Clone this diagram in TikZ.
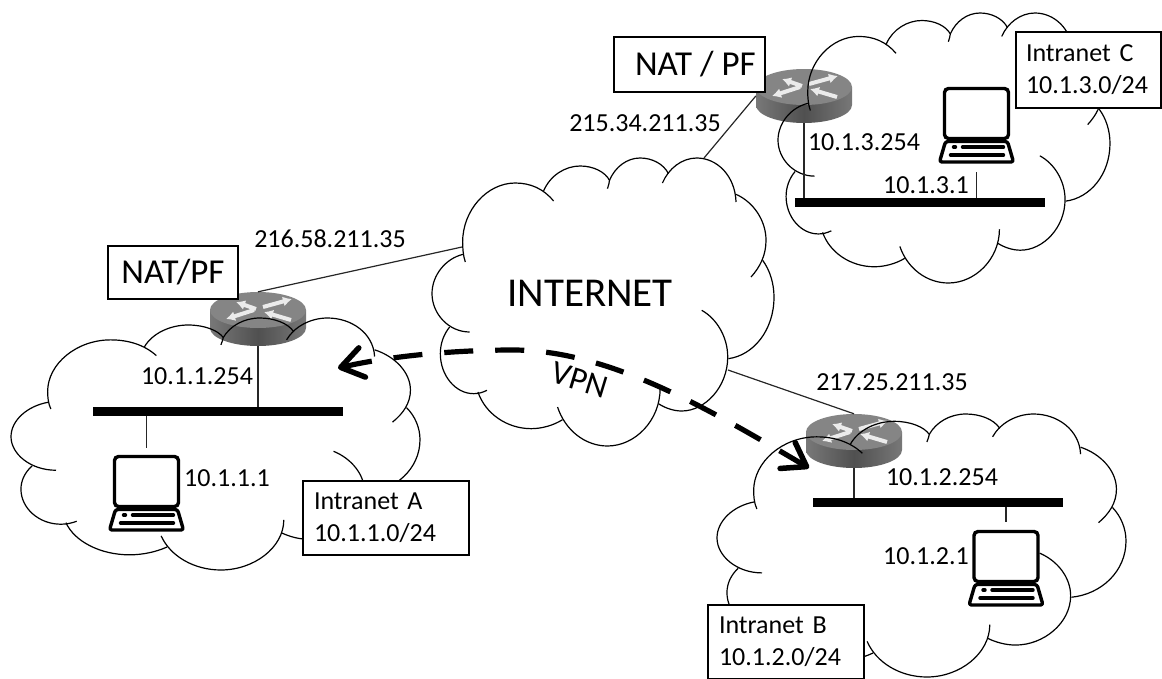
\documentclass[tikz,border=0pt]{standalone}
\usepackage{fontspec}
\setmainfont{Carlito}
\usetikzlibrary{arrows.meta}
\tikzset{>=latex}
\definecolor{routertop}{HTML}{858585}
\definecolor{routerside}{HTML}{505050}
\definecolor{routerrim}{HTML}{787878}
\tikzstyle{lbl}=[inner sep=0,font=\fontsize{26}{32}\selectfont]
\tikzstyle{boxed}=[draw,fill=white,line width=1.2pt,inner sep=0,font=\fontsize{26}{32}\selectfont,align=left]
\tikzstyle{natbox}=[boxed,font=\fontsize{35}{40}\selectfont]
\tikzstyle{lanbar}=[fill=black,inner sep=0,minimum width=250pt,minimum height=9pt]
\tikzstyle{slot}=[inner sep=0,minimum width=96pt,minimum height=54pt]
\tikzstyle{padslot}=[inner sep=0,minimum width=75pt,minimum height=77pt]
\tikzstyle{wire}=[line width=1.2pt,black!85]
\tikzstyle{vpnline}=[line width=5.2pt,dash pattern=on 29pt off 22pt,
  {Straight Barb[length=22pt,width=30pt,line width=5.5pt,round]}-{Straight Barb[length=22pt,width=30pt,line width=5.5pt,round]}]
\tikzstyle{routerarrow}=[white!92!black,line width=4pt,-{Latex[length=9pt,width=10pt]}]
\tikzset{
  routerpic/.pic={
    \path[left color=routerrim,right color=routerrim,middle color=routerside]
      (-48,-9) -- (-48,9) .. controls (-48,19) and (-26.4,27) .. (0,27)
      .. controls (26.4,27) and (48,19) .. (48,9) -- (48,-9) -- cycle;
    \fill[routertop] (0,-9) ellipse[x radius=48,y radius=18];
    \draw[routerarrow] (-2,-10) -- (-22,-17);
    \draw[routerarrow] (5,-12) -- (34,-20);
    \draw[routerarrow] (-4,-9) -- (-32,0);
    \draw[routerarrow] (33,1) -- (6,-7);
  },
  laptoppic/.pic={
    \draw[line width=3.4pt,rounded corners=4pt] (-32,-37) rectangle (32,13);
    \draw[line width=3.4pt,rounded corners=2.5pt,line join=round] (-31,16) -- (31,16) -- (37,36.5) -- (-37,36.5) -- cycle;
    \draw[line width=3.4pt,line cap=round] (-23,21.5) -- (-21,21.5) (-14,21.5) -- (27,21.5) (-26,29.5) -- (27,29.5);
  }
}
\newcommand{\netcloud}[4]{%
  \begin{scope}[shift={(#1,#2)},x={#3pt/1027},y={-#4pt/864},shift={(-305,-83)},line width=1.2pt]
    \draw (398,372) .. controls (345,385) and (305,435) .. (305,490) .. controls (305,550) and (355,605) .. (418,605);
    \draw (405,395) .. controls (398,375) and (397,350) .. (397,335) .. controls (397,240) and (470,158) .. (555,158) .. controls (600,158) and (640,175) .. (670,212);
    \draw (640,182) .. controls (660,135) and (705,107) .. (750,107) .. controls (790,107) and (825,125) .. (838,150) .. controls (838,155) and (835,165) .. (832,175);
    \draw (838,150) .. controls (855,110) and (890,83) .. (930,83) .. controls (965,83) and (1000,100) .. (1015,130);
    \draw (997,158) .. controls (1015,115) and (1055,83) .. (1100,83) .. controls (1160,83) and (1215,135) .. (1218,215);
    \draw (1218,192) .. controls (1270,215) and (1308,270) .. (1308,330) .. controls (1308,375) and (1290,410) .. (1263,440);
    \draw (1298,390) .. controls (1320,420) and (1332,460) .. (1332,500) .. controls (1332,600) and (1270,675) .. (1195,685);
    \draw (1115,540) .. controls (1160,565) and (1193,620) .. (1193,680) .. controls (1193,770) and (1125,842) .. (1055,842) .. controls (1030,842) and (1005,833) .. (985,820);
    \draw (990,775) .. controls (990,870) and (915,947) .. (832,947) .. controls (765,947) and (705,900) .. (682,830);
    \draw (697,868) .. controls (670,885) and (635,895) .. (603,895) .. controls (530,895) and (465,850) .. (443,785);
    \draw (470,780) .. controls (455,787) and (445,790) .. (430,790) .. controls (375,790) and (330,735) .. (330,670) .. controls (330,640) and (340,612) .. (358,590);
  \end{scope}}
\begin{document}
\begin{tikzpicture}[x=1pt,y=-1pt]
  \useasboundingbox (0,0) rectangle (1162,678);
  \clip (0,0) rectangle (1162,678);
  % routers go under the clouds
  \node[slot] (routerA) at (258,319) {};
  \node[slot] (routerB) at (854,441) {};
  \node[slot] (routerC) at (804,96) {};
  \pic at (routerA) {routerpic};
  \pic at (routerB) {routerpic};
  \pic at (routerC) {routerpic};
  % clouds
  \netcloud{432}{158}{342}{288}
  \netcloud{11}{318}{409}{252}
  \netcloud{717}{414}{409}{263}
  \netcloud{778}{13}{332}{270}
  \coordinate (inetA) at (462,247);
  \coordinate (inetB) at (728,370);
  \coordinate (inetC) at (704,158);
  \draw[wire] (routerA.north) -- (inetA);
  \draw[wire] (routerB.north) -- (inetB);
  \draw[wire] (routerC.west) -- (inetC);
  % LANs
  \node[lanbar] (barA) at (218,411.5) {};
  \node[lanbar] (barB) at (938,502.5) {};
  \node[lanbar] (barC) at (920,202.5) {};
  \node[padslot] (padA) at (146.5,493.5) {};
  \node[padslot] (padB) at (1006,568.5) {};
  \node[padslot] (padC) at (976.5,125.5) {};
  \pic at (padA) {laptoppic};
  \pic at (padB) {laptoppic};
  \pic at (padC) {laptoppic};
  \draw[wire] (routerA.south) -- (routerA.south |- barA.north);
  \draw[wire] (routerB.south) -- (routerB.south |- barB.north);
  \draw[wire] (routerC.south) -- (routerC.south |- barC.north);
  \draw[wire,shorten <=7pt] (padA.north) -- (padA.north |- barA.south);
  \draw[wire,shorten <=8pt] (padB.north) -- (padB.north |- barB.south);
  \draw[wire,shorten <=8pt] (padC.south) -- (padC.south |- barC.north);
  % tunnel
  \coordinate (vpnA) at (338,368);
  \coordinate (vpnB) at (809,468);
  \draw[vpnline] (vpnA) .. controls (395,355) and (460,350) .. (513,350)
                        .. controls (610,350) and (710,410) .. (vpnB);
  % labels
  \node[font=\fontsize{41}{48}\selectfont,inner sep=0] (inet) at (590,293) {INTERNET};
  \node[font=\fontsize{33}{40}\selectfont,inner sep=0,rotate=-17] (vpn) at (580,380) {VPN};
  \node[lbl] (ipA) at (330,239) {216.58.211.35};
  \node[lbl] (ipC) at (645,123) {215.34.211.35};
  \node[lbl] (ipB) at (892,382) {217.25.211.35};
  \node[lbl] (gwC) at (864,142) {10.1.3.254};
  \node[lbl] (hostC) at (926,185) {10.1.3.1};
  \node[lbl] (gwA) at (197,376) {10.1.1.254};
  \node[lbl] (hostA) at (227,478) {10.1.1.1};
  \node[lbl] (gwB) at (942,477) {10.1.2.254};
  \node[lbl] (hostB) at (926,556) {10.1.2.1};
  \node[natbox,minimum width=130pt,minimum height=53pt] (natA) at (173,272.5) {NAT/PF};
  \node[natbox,minimum width=151pt,minimum height=55pt] (natC) at (689.5,64.5) {\,\,NAT / PF};
  \node[boxed,minimum width=166pt,minimum height=74pt,text width=144pt] (netA) at (386,518) {Intranet A\\10.1.1.0/24};
  \node[boxed,minimum width=156pt,minimum height=74pt,text width=134pt] (netB) at (786,642) {Intranet B\\10.1.2.0/24};
  \node[boxed,minimum width=145pt,minimum height=76pt,text width=125pt] (netC) at (1088.5,70) {Intranet C\\10.1.3.0/24};
\end{tikzpicture}
\end{document}
